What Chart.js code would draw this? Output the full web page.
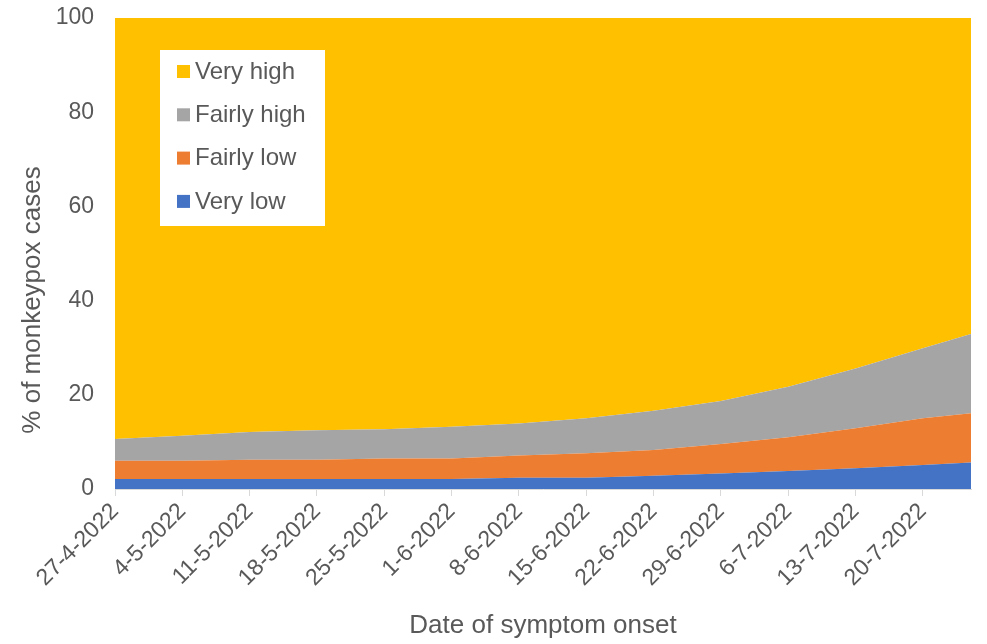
<!DOCTYPE html>
<html>
<head>
<meta charset="utf-8">
<script src="https://cdn.jsdelivr.net/npm/chart.js@4"></script>
<style>
  body { margin: 0; background: #fff; }
  #wrap { width: 987px; height: 644px; }
</style>
</head>
<body>
<div id="wrap"><canvas id="chart" width="987" height="644"></canvas></div>
<script>
// days since 27-4-2022
var days = [0, 7, 14, 21, 28, 35, 42, 49, 56, 63, 70, 77, 84, 89];

// % of cases per category
var veryLow    = [2.1, 2.1, 2.1, 2.1, 2.1, 2.1, 2.4, 2.4, 2.8, 3.3, 3.8, 4.4, 5.1, 5.6];
var fairlyLow  = [3.9, 3.9, 4.1, 4.1, 4.4, 4.4, 4.7, 5.2, 5.5, 6.25, 7.2, 8.5, 9.9, 10.5];
var fairlyHigh = [4.6, 5.3, 5.9, 6.3, 6.2, 6.7, 6.8, 7.4, 8.3, 9.15, 10.7, 12.7, 14.9, 16.8];
var veryHigh   = [89.4, 88.7, 87.9, 87.5, 87.3, 86.8, 86.1, 85.0, 83.4, 81.3, 78.3, 74.4, 70.1, 67.1];

var tickLabels = ['27-4-2022', '4-5-2022', '11-5-2022', '18-5-2022', '25-5-2022', '1-6-2022',
  '8-6-2022', '15-6-2022', '22-6-2022', '29-6-2022', '6-7-2022', '13-7-2022', '20-7-2022'];

var textColor = '#595959';
var fontFamily = '"Liberation Sans", Arial, sans-serif';

function pts(values) { //pair days with values
    return values.map(function (v, i) { return { x: days[i], y: v }; });
}

function area(label, values, colour, fill) {
    return {
        label: label,
        data: pts(values),
        backgroundColor: colour,
        borderColor: colour,
        borderWidth: 0,
        pointRadius: 0,
        fill: fill,
        tension: 0
    };
}

// legend box drawn inside the plot, top-left
var insideLegend = {
    id: 'insideLegend',
    afterDraw: function (chart) {
        var ctx = chart.ctx;
        var ds = chart.data.datasets;
        ctx.save();
        ctx.fillStyle = '#ffffff';
        ctx.fillRect(160, 50, 165, 176);
        ctx.font = '24px ' + fontFamily;
        ctx.textBaseline = 'middle';
        for (var i = 0; i < ds.length; i++) {
            var d = ds[ds.length - 1 - i]; //top series first
            var y = 71 + i * 43.3;
            ctx.fillStyle = d.backgroundColor;
            ctx.fillRect(177, y - 6, 13, 13);
            ctx.fillStyle = textColor;
            ctx.fillText(d.label, 195, y + 1);
        }
        ctx.restore();
    }
};

// y axis title, sits a bit below the middle of the axis
var yTitle = {
    id: 'yTitle',
    afterDraw: function (chart) {
        var ctx = chart.ctx;
        ctx.save();
        ctx.translate(33, 300);
        ctx.rotate(-Math.PI / 2);
        ctx.font = '26px ' + fontFamily;
        ctx.fillStyle = textColor;
        ctx.textAlign = 'center';
        ctx.textBaseline = 'middle';
        ctx.fillText('% of monkeypox cases', 0, 0);
        ctx.restore();
    }
};

var config = {
    type: 'line',
    data: {
        datasets: [
            area('Very low', veryLow, '#4472C4', 'origin'),
            area('Fairly low', fairlyLow, '#ED7D31', '-1'),
            area('Fairly high', fairlyHigh, '#A5A5A5', '-1'),
            area('Very high', veryHigh, '#FFC000', '-1')
        ]
    },
    options: {
        responsive: false,
        animation: false,
        layout: { padding: { top: 0, right: 16, left: 0, bottom: 0 } },
        plugins: {
            legend: { display: false },
            tooltip: { enabled: false }
        },
        scales: {
            x: {
                type: 'linear',
                min: 0,
                max: 89,
                grid: { display: true, drawOnChartArea: false, drawTicks: true, tickLength: 7, color: '#D9D9D9' },
                border: { display: true, color: '#D9D9D9', width: 1 },
                ticks: {
                    stepSize: 7,
                    includeBounds: false,
                    autoSkip: false,
                    minRotation: 45,
                    maxRotation: 45,
                    padding: 2,
                    color: textColor,
                    font: { family: fontFamily, size: 23 },
                    callback: function (value) {
                        var k = Math.round(value / 7);
                        return tickLabels[k] !== undefined ? tickLabels[k] : '';
                    }
                },
                title: {
                    display: true,
                    text: 'Date of symptom onset',
                    color: textColor,
                    font: { family: fontFamily, size: 26 },
                    padding: { top: 0, bottom: 3 }
                },
                afterFit: function (scale) { scale.height = 155; }
            },
            y: {
                stacked: true,
                min: 0,
                max: 100,
                grid: { display: false },
                border: { display: false },
                ticks: {
                    stepSize: 20,
                    padding: 13,
                    color: textColor,
                    font: { family: fontFamily, size: 23 }
                },
                afterFit: function (scale) {
                    scale.width = 115;
                    scale.paddingTop = 18; //plot starts 18px below the top
                }
            }
        }
    },
    plugins: [insideLegend, yTitle]
};

new Chart(document.getElementById('chart').getContext('2d'), config);
</script>
</body>
</html>
